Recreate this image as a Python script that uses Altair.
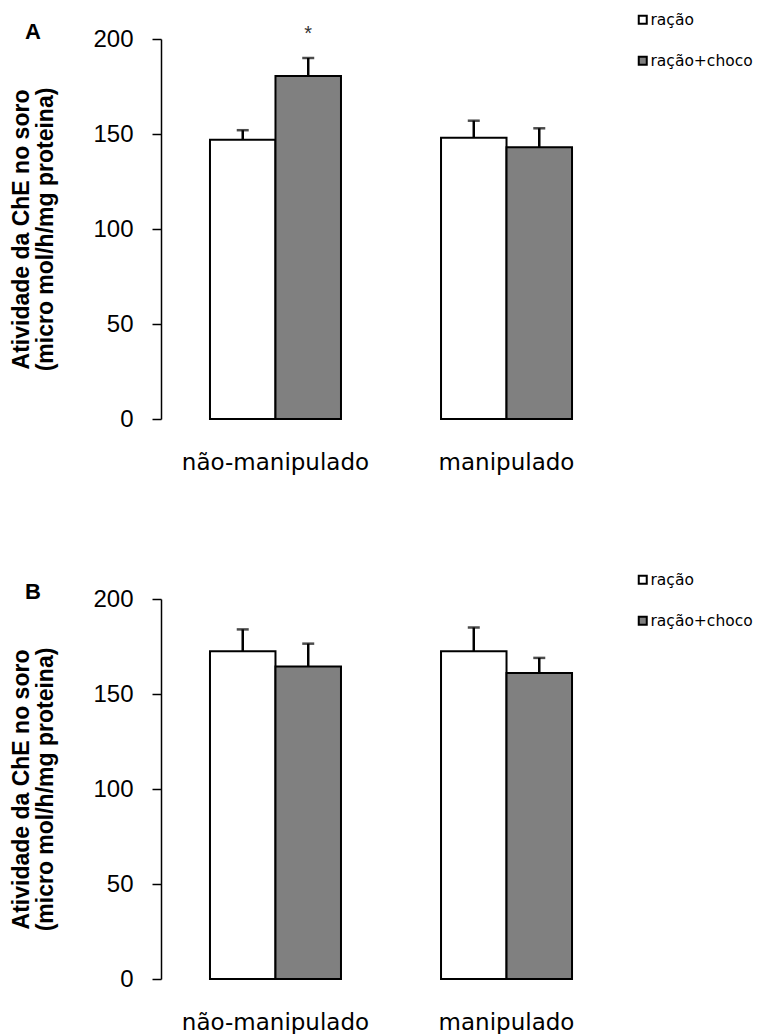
import altair as alt
import pandas as pd

groups = ["não-manipulado", "manipulado"]
series = ["ração", "ração+choco"]
colors = ["#ffffff", "#808080"]
y_ticks = [0, 50, 100, 150, 200]

# Panel A
a_racao_mean = [147, 148]
a_racao_sem = [5, 9]
a_choco_mean = [180.5, 143]
a_choco_sem = [9.5, 10]
a_racao_sig = ["", ""]
a_choco_sig = ["*", ""]

# Panel B
b_racao_mean = [172.5, 172.5]
b_racao_sem = [11.5, 12.5]
b_choco_mean = [164.5, 161]
b_choco_sem = [12, 8]
b_racao_sig = ["", ""]
b_choco_sig = ["", ""]

y_title = ["Atividade da ChE no soro", "(micro mol/h/mg proteina)"]


def make_df(rm, rs, cm, cs, rsig, csig):
    rows = []
    for i, g in enumerate(groups):
        rows.append({"group": g, "series": series[0], "mean": rm[i], "top": rm[i] + rs[i], "sig": rsig[i]})
        rows.append({"group": g, "series": series[1], "mean": cm[i], "top": cm[i] + cs[i], "sig": csig[i]})
    return pd.DataFrame(rows)


def panel(df, letter):
    x = alt.X("group:N", sort=groups,
              scale=alt.Scale(paddingInner=0.433, paddingOuter=0.212),
              axis=alt.Axis(title=None, labelAngle=0, domain=False, ticks=False,
                            labelFont="DejaVu Sans", labelFontSize=23, labelColor="black",
                            labelPadding=32, labelLimit=400))
    xo = alt.XOffset("series:N", sort=series, scale=alt.Scale(paddingInner=0, paddingOuter=0))
    yaxis = alt.Axis(values=y_ticks, title=y_title, grid=False,
                     labelFont="Liberation Sans", labelFontSize=24, labelColor="black",
                     labelPadding=19, tickSize=9, tickColor="black", tickWidth=1.5,
                     domainColor="black", domainWidth=1.5,
                     titleFont="Liberation Sans", titleFontSize=23, titleFontWeight="bold",
                     titleColor="black", titleLineHeight=24, titlePadding=35)
    yscale = alt.Scale(domain=[0, 200], nice=False)
    fill = alt.Fill("series:N", sort=series,
                    scale=alt.Scale(domain=series, range=colors),
                    legend=alt.Legend(orient="none", legendX=474, legendY=-27, title=None,
                                      padding=0,
                                      symbolType="square", symbolSize=64,
                                      symbolStrokeColor="black", symbolStrokeWidth=2,
                                      labelFont="DejaVu Sans", labelFontSize=15.5,
                                      labelColor="black", rowPadding=23, labelOffset=0))
    base = alt.Chart(df)
    bars = base.mark_bar(stroke="black", strokeWidth=2).encode(
        x=x, xOffset=xo, y=alt.Y("mean:Q", scale=yscale, axis=yaxis), fill=fill)
    err = base.mark_rule(color="black", strokeWidth=2.5).encode(
        x=x, xOffset=xo, y=alt.Y("mean:Q", scale=yscale, axis=yaxis), y2="top:Q")
    cap = base.mark_tick(color="black", thickness=2.5, size=12, orient="horizontal").encode(
        x=x, xOffset=xo, y=alt.Y("top:Q", scale=yscale, axis=yaxis))
    star = base.mark_text(dy=-24, fontSize=20, baseline="middle", color="#333333",
                          font="Liberation Sans").encode(
        x=x, xOffset=xo, y=alt.Y("top:Q", scale=yscale, axis=yaxis), text="sig:N")
    return alt.layer(bars, err, cap, star).properties(
        width=460, height=380,
        title=alt.TitleParams(letter, anchor="start", frame="group", dx=-136, dy=49,
                              offset=0, baseline="alphabetic",
                              font="Liberation Sans", fontSize=22, fontWeight="bold",
                              color="black"))


df_a = make_df(a_racao_mean, a_racao_sem, a_choco_mean, a_choco_sem, a_racao_sig, a_choco_sig)
df_b = make_df(b_racao_mean, b_racao_sem, b_choco_mean, b_choco_sem, b_racao_sig, b_choco_sig)

chart = alt.vconcat(panel(df_a, "A"), panel(df_b, "B"), spacing=180, bounds="flush").resolve_scale(
    fill="independent").resolve_legend(fill="independent").properties(
    padding={"left": 2, "top": 4, "right": 0, "bottom": 0},
    background="white"
).configure_view(strokeWidth=0, stroke="transparent")

chart.save("out.html", embed_options={"renderer": "svg", "actions": False})
